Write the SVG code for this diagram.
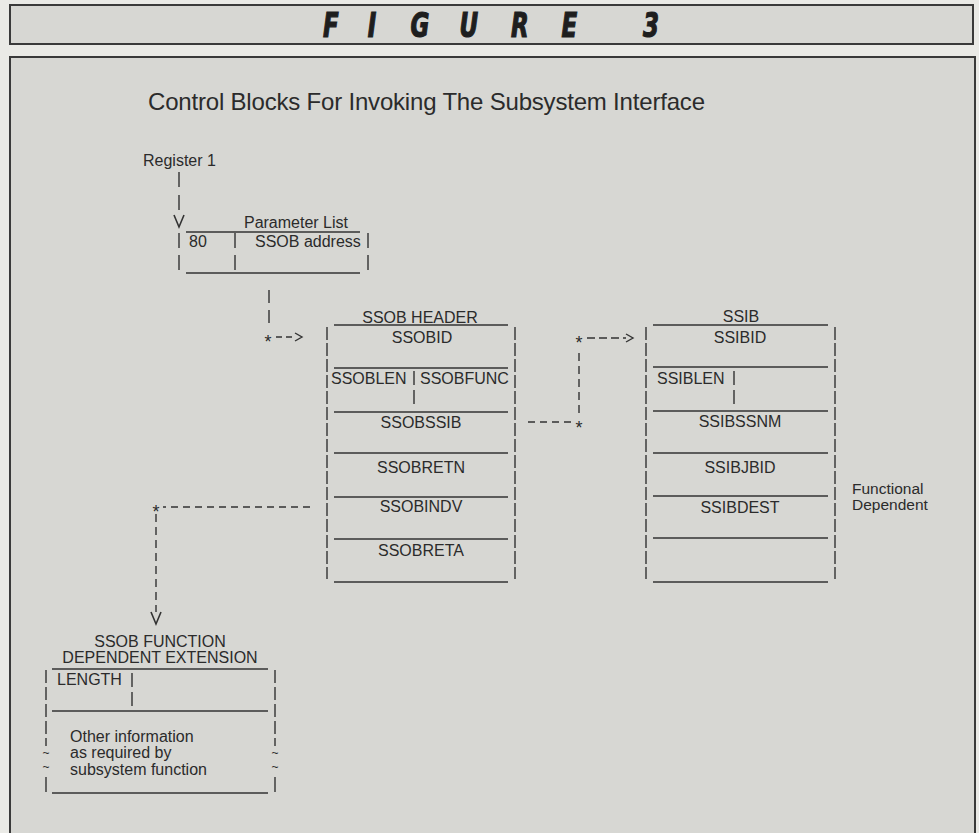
<svg xmlns="http://www.w3.org/2000/svg" width="979" height="833" viewBox="0 0 979 833">
<style>
  .frame { fill: #d7d7d3; stroke: #3a3a3a; stroke-width: 2; }
  .t { font-family: "Liberation Sans", Arial, sans-serif; font-size: 16px; fill: #2b2b2b; }
  .c { text-anchor: middle; }
  .ln { stroke: #333; stroke-width: 1.6; fill: none; }
  .bar { stroke: #333; stroke-width: 1.4; fill: none; stroke-dasharray: 13 3; }
  .dh { stroke: #333; stroke-width: 1.4; fill: none; stroke-dasharray: 7 5; }
  .dv { stroke: #333; stroke-width: 1.4; fill: none; stroke-dasharray: 8 5; }
  .star { font-family: "Liberation Sans", Arial, sans-serif; font-size: 18px; fill: #2b2b2b; text-anchor: middle; }
  .tl { font-family: "Liberation Sans", Arial, sans-serif; font-size: 12px; fill: #2b2b2b; text-anchor: middle; }
  .fig { font-family: "DejaVu Sans Condensed", "DejaVu Sans", sans-serif; font-weight: bold; font-style: italic; font-size: 34px; fill: #1e1e1e; stroke: #1e1e1e; stroke-width: 1.2; text-anchor: middle; }
</style>
<defs>
  <marker id="chevH" markerUnits="userSpaceOnUse" markerWidth="10" markerHeight="10" refX="0" refY="4" orient="auto" overflow="visible">
    <path d="M0,0 L7,4 L0,8" fill="none" stroke="#333" stroke-width="1.4"/>
  </marker>
  <marker id="chevV" markerUnits="userSpaceOnUse" markerWidth="14" markerHeight="12" refX="0" refY="5" orient="auto" overflow="visible">
    <path d="M0,0 L12,5 L0,10" fill="none" stroke="#333" stroke-width="1.6"/>
  </marker>
</defs>
<rect x="0" y="0" width="979" height="833" fill="#eaeae6"/>

<g id="header">
  <rect class="frame" x="10" y="5" width="963" height="39"/>
  <g transform="scale(0.75 1)">
    <text class="fig" x="441 496 560 625 693 759 868" y="37">FIGURE3</text>
  </g>
</g>

<rect class="frame" x="10" y="57" width="965" height="790"/>

<text id="title" class="t" x="148" y="110" style="font-size:24px" textLength="557">Control Blocks For Invoking The Subsystem Interface</text>

<g id="register1">
  <text class="t" x="143" y="166">Register 1</text>
</g>

<g id="parameter-list">
  <text class="t c" x="296" y="228">Parameter List</text>
  <line class="ln" x1="186" y1="232" x2="360" y2="232"/>
  <line class="bar" x1="179" y1="233" x2="179" y2="271" style="stroke-dasharray:15 7"/>
  <line class="bar" x1="235" y1="233" x2="235" y2="271" style="stroke-dasharray:15 7"/>
  <line class="bar" x1="368" y1="233" x2="368" y2="271" style="stroke-dasharray:15 7"/>
  <text class="t" x="189" y="247">80</text>
  <text class="t" x="255" y="247">SSOB address</text>
  <line class="ln" x1="186" y1="273" x2="360" y2="273"/>
</g>

<g id="ssob-header">
  <text class="t c" x="420" y="323">SSOB HEADER</text>
  <line class="ln" x1="334" y1="325" x2="508" y2="325"/>
  <line class="bar" x1="327" y1="327" x2="327" y2="579"/>
  <line class="bar" x1="515" y1="327" x2="515" y2="579"/>
  <text class="t c" x="422" y="343">SSOBID</text>
  <line class="ln" x1="334" y1="368" x2="508" y2="368"/>
  <text class="t" x="331" y="384">SSOBLEN</text>
  <line class="bar" x1="414" y1="371" x2="414" y2="409" style="stroke-dasharray:14 5"/>
  <text class="t" x="420" y="384">SSOBFUNC</text>
  <line class="ln" x1="334" y1="412" x2="508" y2="412"/>
  <text class="t c" x="421" y="428">SSOBSSIB</text>
  <line class="ln" x1="334" y1="453" x2="508" y2="453"/>
  <text class="t c" x="421" y="473">SSOBRETN</text>
  <line class="ln" x1="334" y1="497" x2="508" y2="497"/>
  <text class="t c" x="421" y="512">SSOBINDV</text>
  <line class="ln" x1="334" y1="539" x2="508" y2="539"/>
  <text class="t c" x="421" y="556">SSOBRETA</text>
  <line class="ln" x1="334" y1="582" x2="508" y2="582"/>
</g>

<g id="ssib">
  <text class="t c" x="741" y="322">SSIB</text>
  <line class="ln" x1="653" y1="325" x2="828" y2="325"/>
  <line class="bar" x1="646" y1="327" x2="646" y2="579"/>
  <line class="bar" x1="835" y1="327" x2="835" y2="579"/>
  <text class="t c" x="740" y="343">SSIBID</text>
  <line class="ln" x1="653" y1="367" x2="828" y2="367"/>
  <text class="t" x="657" y="384">SSIBLEN</text>
  <line class="bar" x1="734" y1="371" x2="734" y2="409" style="stroke-dasharray:14 5"/>
  <line class="ln" x1="653" y1="411" x2="828" y2="411"/>
  <text class="t c" x="740" y="427">SSIBSSNM</text>
  <line class="ln" x1="653" y1="453" x2="828" y2="453"/>
  <text class="t c" x="740" y="473">SSIBJBID</text>
  <line class="ln" x1="653" y1="496" x2="828" y2="496"/>
  <text class="t c" x="740" y="513">SSIBDEST</text>
  <line class="ln" x1="653" y1="538" x2="828" y2="538"/>
  <line class="ln" x1="653" y1="582" x2="828" y2="582"/>
</g>

<g id="functional-dependent-note">
  <text class="t" x="852" y="494" style="font-size:15.5px">Functional</text>
  <text class="t" x="852" y="510" style="font-size:15.5px">Dependent</text>
</g>

<g id="ssob-extension">
  <text class="t c" x="160" y="647">SSOB FUNCTION</text>
  <text class="t c" x="160" y="663">DEPENDENT EXTENSION</text>
  <line class="ln" x1="52" y1="669" x2="268" y2="669"/>
  <line class="bar" x1="46" y1="670" x2="46" y2="746" style="stroke-dasharray:13 4"/>
  <line class="bar" x1="275" y1="670" x2="275" y2="746" style="stroke-dasharray:13 4"/>
  <text class="tl" x="46" y="757">~</text>
  <text class="tl" x="46" y="771">~</text>
  <text class="tl" x="275" y="757">~</text>
  <text class="tl" x="275" y="771">~</text>
  <line class="ln" x1="46" y1="777" x2="46" y2="792" style="stroke-width:1.4"/>
  <line class="ln" x1="275" y1="777" x2="275" y2="792" style="stroke-width:1.4"/>
  <text class="t" x="57" y="685">LENGTH</text>
  <line class="bar" x1="132" y1="673" x2="132" y2="710" style="stroke-dasharray:14 5"/>
  <line class="ln" x1="52" y1="711" x2="268" y2="711"/>
  <text class="t" x="70" y="742">Other information</text>
  <text class="t" x="70" y="758">as required by</text>
  <text class="t" x="70" y="775">subsystem function</text>
  <line class="ln" x1="52" y1="793" x2="268" y2="793"/>
</g>

<g id="connectors">
  <g id="edge-register-paramlist">
    <path class="ln" d="M179,172 V215" style="stroke-dasharray:15 8;stroke-width:1.4" marker-end="url(#chevV)"/>
  </g>
  <g id="edge-paramlist-ssob">
    <path class="ln" d="M269,290 V326" style="stroke-dasharray:13 7;stroke-width:1.4"/>
    <text class="star" x="268" y="348">*</text>
    <path class="dh" d="M276,337 H295" style="stroke-dasharray:6 4" marker-end="url(#chevH)"/>
  </g>
  <g id="edge-ssob-ssib">
    <path class="dh" d="M528,422 H571"/>
    <text class="star" x="579" y="434">*</text>
    <path class="dv" d="M579,413 V348"/>
    <text class="star" x="579" y="349">*</text>
    <path class="dh" d="M587,338 H626" style="stroke-dasharray:8 4" marker-end="url(#chevH)"/>
  </g>
  <g id="edge-ssob-extension">
    <path class="dh" d="M310,507 H163"/>
    <text class="star" x="156" y="518">*</text>
    <path class="dv" d="M156,514 V612" marker-end="url(#chevV)"/>
  </g>
</g>
</svg>
